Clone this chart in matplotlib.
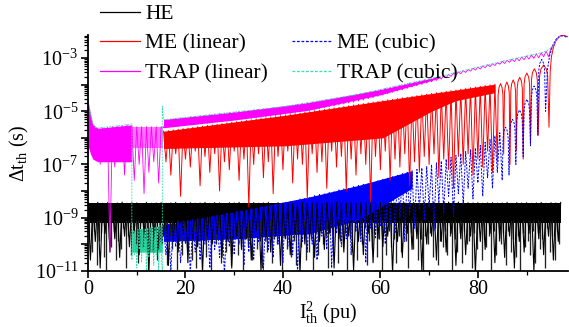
import numpy as np
import matplotlib
matplotlib.use("Agg")
import matplotlib.pyplot as plt
from matplotlib.lines import Line2D
from matplotlib.ticker import LogLocator, FuncFormatter, MultipleLocator, NullFormatter

# ---------------- data (log10 of Delta t_th in s) ----------------
# HE: peaks at x = 0,1,...,97 ; troughs at x = 0.5,...,96.5 ; extra spikes at 0.25, 0.75, ...
he_peaks = [-8.45,-8.47,-8.43,-8.46,-8.44, -8.48,-8.45,-8.42,-8.46,-8.44, -8.45,-8.47,-8.43,-8.46,-8.45,
            -8.44,-8.46,-8.45,-8.43,-8.47, -8.45,-8.44,-8.46,-8.45,-8.43, -8.46,-8.44,-8.45,-8.47,-8.44,
            -8.45,-8.43,-8.46,-8.45,-8.44, -8.46,-8.45,-8.43,-8.47,-8.44, -8.45,-8.44,-8.46,-8.45,-8.43,
            -8.46,-8.44,-8.45,-8.47,-8.44, -8.45,-8.43,-8.46,-8.45,-8.44, -8.46,-8.45,-8.43,-8.47,-8.44,
            -8.45,-8.44,-8.46,-8.45,-8.43, -8.45,-8.44,-8.46,-8.45,-8.43, -8.44,-8.42,-8.43,-8.41,-8.42,
            -8.40,-8.42,-8.43,-8.44,-8.45, -8.44,-8.46,-8.45,-8.44,-8.46, -8.45,-8.43,-8.46,-8.44,-8.45,
            -8.44,-8.46,-8.45,-8.43,-8.46, -8.44,-8.45,-8.43]
he_troughs = [-10.6,-9.9,-10.9,-9.6,-10.3, -9.8,-10.5,-9.7,-10.1,-9.5, -10.4,-9.6,-11.0,-9.8,-10.2,
              -9.7,-10.8,-9.9,-10.3,-9.6, -10.7,-9.8,-10.1,-11.1,-9.7, -10.0,-9.6,-10.5,-9.9,-10.9,
              -9.7,-10.2,-9.8,-10.6,-9.5, -11.0,-9.9,-10.3,-9.7,-10.8, -9.8,-10.4,-9.6,-11.1,-10.0,
              -9.7,-10.5,-9.9,-10.2,-9.6, -10.9,-9.8,-10.3,-9.7,-11.0, -9.9,-10.4,-9.6,-10.7,-9.8,
              -10.1,-9.7,-11.1,-9.9,-10.5, -9.6,-10.2,-9.8,-11.0,-10.0, -9.7,-10.6,-9.9,-10.3,-9.6,
              -10.8,-9.8,-10.4,-9.7,-11.1, -9.9,-10.2,-9.6,-10.7,-9.8, -10.5,-9.7,-10.9,-9.9,-10.3,
              -9.6,-11.0,-9.8,-10.4,-9.7, -10.6,-9.9]
he_spikes = [-9.7,-10.3,-9.5,-10.8,-9.9,-9.6,-10.5,-11.0,-9.8,-10.1,
             -9.5,-10.6,-9.9,-10.2,-9.4,-10.9,-9.7,-10.4,-9.6,-10.0,
             -10.7,-9.5,-10.1,-9.8,-11.1,-9.6,-10.3,-9.5,-10.6,-9.9,
             -10.0,-9.4,-10.8,-9.7,-10.2,-9.6,-11.0,-9.8,-10.4,-9.5,
             -10.1,-9.7,-10.6,-9.5,-10.9,-9.9,-10.2,-9.6,-10.5,-9.4,
             -11.2,-9.8,-10.0,-9.5,-10.7,-9.6,-10.3,-9.9,-10.8,-9.7,
             -9.6,-10.4,-9.5,-11.0,-9.8,-10.1,-9.7,-10.6,-9.4,-10.2,
             -9.9,-10.9,-9.6,-10.3,-9.5,-10.7,-9.8,-10.0,-9.6,-11.1,
             -9.7,-10.2,-9.5,-10.5,-9.9,-10.8,-9.6,-10.1,-9.4,-10.6,
             -10.3,-9.8,-11.0,-9.6,-10.4,-9.5,-10.0,-9.7,-10.9,-9.6,
             -10.2,-9.5,-10.7,-9.9,-10.1,-9.6,-11.2,-9.8,-10.3,-9.5,
             -10.6,-9.7,-10.0,-9.4,-10.8,-9.9,-10.2,-9.6,-10.5,-9.8,
             -11.0,-9.6,-10.4,-9.5,-10.1,-9.8,-10.7,-9.7,-10.3,-9.4,
             -9.9,-10.9,-9.6,-10.2,-9.5,-10.6,-9.8,-11.1,-9.7,-10.0,
             -9.6,-10.5,-9.4,-10.8,-9.9,-10.1,-9.5,-10.4,-9.7,-11.0,
             -9.8,-10.3,-9.6,-10.7,-9.5,-10.0,-9.9,-10.9,-9.6,-10.2,
             -9.4,-10.6,-9.8,-10.1,-9.7,-11.2,-9.5,-10.4,-9.9,-10.0,
             -9.6,-10.8,-9.5,-10.3,-9.8,-10.5,-9.7,-11.0,-9.6,-10.1,
             -9.9,-10.4,-9.5,-10.7,-9.6,-10.2,-9.8,-10.9,-9.4,-10.3,
             -9.7,-10.6,-9.5,-10.0]
he_spike_top = -9.1
he_band_x = [0, 97]
he_band_hi = [-8.45, -8.45]
he_band_lo = [-9.2, -9.2]

# ME (linear): peaks at 15.5,...,83.5 ; troughs at 16,...,84 ; then lobes
me_lin_peaks = [-5.75,-5.73,-5.70,-5.68,-5.65,-5.63,-5.61,-5.58,-5.56,-5.53,
                -5.51,-5.49,-5.46,-5.44,-5.41,-5.39,-5.37,-5.34,-5.32,-5.29,
                -5.27,-5.25,-5.22,-5.20,-5.17,-5.15,-5.12,-5.09,-5.07,-5.04,
                -5.01,-4.98,-4.96,-4.93,-4.90,-4.87,-4.85,-4.82,-4.79,-4.76,
                -4.74,-4.71,-4.68,-4.65,-4.63,-4.60,-4.57,-4.55,-4.52,-4.49,
                -4.47,-4.44,-4.41,-4.38,-4.36,-4.33,-4.30,-4.28,-4.25,-4.22,
                -4.20,-4.17,-4.14,-4.11,-4.09,-4.06,-4.03,-4.01,-3.98]
me_lin_troughs = [-6.9,-7.4,-6.6,-8.2,-6.8,-7.1,-6.5,-7.8,-6.7,-7.3,
                  -6.6,-8.0,-6.9,-7.2,-6.5,-7.6,-6.8,-8.6,-7.0,-6.6,
                  -7.5,-6.9,-8.1,-6.7,-7.2,-6.5,-7.7,-6.8,-7.0,-8.3,
                  -6.6,-7.3,-6.9,-7.9,-6.5,-7.1,-6.7,-8.0,-6.8,-7.4,
                  -6.6,-7.0,-8.4,-6.7,-7.2,-6.5,-7.6,-6.8,-7.1,-6.6,
                  -7.8,-6.9,-7.3,-6.7,-7.0,-6.6,-7.5,-6.8,-7.2,-7.9,
                  -6.7,-7.0,-6.6,-7.4,-6.8,-7.1,-6.5,-7.3,-6.9]
me_lin_tail_x = [84.16,84.33,84.65,84.97,85.14,85.3, 85.46,85.63,85.95,86.27,86.44,86.6,
                 86.76,86.93,87.25,87.57,87.74,87.9, 88.07,88.25,88.6,88.95,89.13,89.3,
                 89.49,89.68,90.05,90.42,90.61,90.8, 91.0,91.2,91.6,92.0,92.2,92.4,
                 92.67,92.95,93.5,94.05,94.33,94.6, 94.85,95.1,95.5,96.0,96.6,97.2,97.8,98.5]
me_lin_tail = [-4.38,-4.11,-3.96,-4.11,-4.38,-6.6, -4.32,-4.05,-3.90,-4.05,-4.32,-7.0,
               -4.24,-3.97,-3.82,-3.97,-4.24,-6.5, -4.14,-3.87,-3.72,-3.87,-4.14,-6.8,
               -3.98,-3.71,-3.56,-3.71,-3.98,-6.2, -3.82,-3.55,-3.40,-3.55,-3.82,-5.9,
               -3.68,-3.41,-3.26,-3.41,-3.68,-5.6, -3.5,-2.95,-2.6,-2.35,-2.2,-2.14,-2.15,-2.2]
me_lin_band_x = [15.5, 40.5, 60.5, 70.5, 75.5, 83.5]
me_lin_band_hi = [-5.75, -5.15, -4.60, -4.33, -4.20, -3.98]
me_lin_band_lo = [-6.4, -6.3, -6.0, -5.0, -4.6, -4.3]

# TRAP (linear): peaks at 0,...,97 ; troughs at 0.5,...,96.5
trap_lin_peaks = [-4.60,-5.50,-5.64,-5.62,-5.60,-5.58,-5.56,-5.54,-5.51,-5.58,
                  -5.58,-5.58,-5.58,-5.58,-5.58,-5.58,
                  -5.31,-5.29,-5.27,-5.25,-5.23,-5.21,-5.19,-5.17,-5.15,-5.13,
                  -5.11,-5.09,-5.07,-5.05,-5.03,-5.01,-4.99,-4.97,-4.95,-4.93,
                  -4.91,-4.89,-4.87,-4.85,-4.83,-4.80,-4.77,-4.74,-4.71,-4.68,
                  -4.65,-4.62,-4.59,-4.56,-4.53,-4.50,-4.47,-4.44,-4.41,-4.38,
                  -4.34,-4.30,-4.26,-4.22,-4.18,-4.14,-4.10,-4.06,-4.02,-3.98,
                  -3.94,-3.90,-3.86,-3.82,-3.78,-3.74,-3.70,-3.65,-3.61,-3.56,
                  -3.52,-3.47,-3.43,-3.38,-3.34,-3.30,-3.25,-3.21,-3.17,-3.12,
                  -3.08,-3.04,-3.00,-2.96,-2.92,-2.88,-2.84,-2.80,-2.74,-2.62,
                  -2.35,-2.15]
trap_lin_troughs = [-6.2,-6.8,-7.0,-6.9,-10.3,-7.1,-6.8,-7.4,-6.9,-7.6,
                    -7.0,-8.1,-7.3,-6.9,-7.7,-5.62,
                    -5.60,-5.58,-5.56,-5.55,-5.52,-5.50,-5.48,-5.46,-5.45,-5.42,
                    -5.40,-5.38,-5.36,-5.35,-5.32,-5.30,-5.28,-5.26,-5.24,-5.22,
                    -5.20,-5.18,-5.16,-5.14,-5.11,-5.08,-5.05,-5.02,-4.99,-4.96,
                    -4.93,-4.90,-4.86,-4.83,-4.80,-4.76,-4.73,-4.69,-4.66,-4.62,
                    -4.58,-4.53,-4.49,-4.44,-4.39,-4.34,-4.29,-4.24,-4.19,-4.14,
                    -4.09,-4.04,-3.99,-3.94,-3.89,-3.84,-3.79,-3.74,-3.69,-3.64,
                    -3.59,-3.54,-3.49,-3.45,-3.41,-3.36,-3.32,-3.28,-3.23,-3.20,
                    -3.16,-3.13,-3.10,-3.06,-3.04,-3.01,-2.99,-2.95,-2.95,-2.55,
                    -2.25]
trap_lin_band_x = [0, 0.5, 1, 2, 9]
trap_lin_band_hi = [-4.6, -5.1, -5.5, -5.64, -5.51]
trap_lin_band_lo = [-6.3, -6.6, -6.8, -6.9, -6.9]
trap_lin_band2_x = [9, 15.3]
trap_lin_band2_hi = [-5.58, -5.58]
trap_lin_band2_lo = [-6.4, -6.4]
trap_lin_band3_x = [15.5, 30, 45, 60, 72]
trap_lin_band3_hi = [-5.31, -5.03, -4.68, -4.18, -3.70]
trap_lin_band3_lo = [-5.62, -5.33, -4.97, -4.38, -3.76]

# ME (cubic): peaks at 15.5,...,84.5 ; troughs at 16,...,85 ; then lobes
me_cub_peaks = [-9.28,-9.25,-9.21,-9.18,-9.15,-9.11,-9.08,-9.04,-9.01,-8.98,
                -8.94,-8.91,-8.87,-8.84,-8.81,-8.77,-8.74,-8.71,-8.67,-8.64,
                -8.60,-8.57,-8.54,-8.50,-8.47,-8.43,-8.39,-8.35,-8.30,-8.26,
                -8.22,-8.18,-8.13,-8.09,-8.05,-8.01,-7.96,-7.92,-7.88,-7.84,
                -7.79,-7.75,-7.71,-7.67,-7.62,-7.57,-7.52,-7.46,-7.41,-7.35,
                -7.30,-7.24,-7.19,-7.13,-7.08,-7.01,-6.94,-6.87,-6.80,-6.73,
                -6.66,-6.59,-6.52,-6.45,-6.38,-6.29,-6.17,-6.05,-5.93,-5.81]
me_cub_troughs = [-10.4,-11.0,-10.1,-10.7,-10.0,-11.1,-10.3,-10.6,-10.0,-10.9,
                  -10.2,-10.5,-11.2,-10.1,-10.4,-10.0,-10.8,-10.3,-10.6,-9.9,
                  -11.0,-10.2,-10.5,-10.0,-10.7,-10.1,-10.4,-11.1,-9.9,-10.3,
                  -10.0,-10.6,-9.7,-10.2,-10.9,-9.6,-10.1,-9.8,-10.4,-9.5,
                  -9.9,-10.7,-9.4,-9.8,-9.3,-10.0,-9.2,-9.6,-9.0,-9.9,
                  -8.9,-9.4,-8.7,-9.1,-8.6,-9.5,-8.4,-8.8,-8.2,-9.0,
                  -8.1,-8.5,-7.9,-8.3,-7.7,-8.2,-7.5,-7.9,-7.3,-7.6]
me_cub_tail_x = [85.18,85.35,85.7,86.05,86.23,86.4, 86.58,86.75,87.1,87.45,87.63,87.8,
                 87.99,88.18,88.55,88.93,89.11,89.3, 89.49,89.68,90.05,90.43,90.61,90.8,
                 90.99,91.18,91.55,91.93,92.11,92.3, 92.5,92.7,93.1,93.5,93.7,93.9,
                 94.3,94.8,95.4,96.1,96.8,97.5,98.3]
me_cub_tail = [-6.02,-5.75,-5.6,-5.75,-6.02,-7.4, -5.72,-5.45,-5.3,-5.45,-5.72,-7.0,
               -5.37,-5.10,-4.95,-5.10,-5.37,-6.7, -4.97,-4.70,-4.55,-4.70,-4.97,-6.3,
               -4.47,-4.20,-4.05,-4.20,-4.47,-5.9, -3.47,-3.20,-3.05,-3.20,-3.47,-5.0,
               -3.4,-2.85,-2.5,-2.28,-2.18,-2.16,-2.22]
me_cub_band_x = [15.5, 30.5, 45.5, 55.5, 66.5]
me_cub_band_hi = [-9.28, -8.77, -8.22, -7.79, -7.24]
me_cub_band_lo = [-9.9, -9.8, -9.6, -9.1, -7.9]

# TRAP (cubic)
trap_cub_head_x = [0, 0.5, 1, 1.5, 2, 3, 4, 5, 6, 7, 8, 9, 9.0]
trap_cub_head = [-4.62,-5.1,-5.48,-5.62,-5.63,-5.61,-5.59,-5.57,-5.55,-5.53,-5.50,-5.48,-10.6]
trap_cub_low = [-9.47,-10.4,-9.46,-10.9,-9.45,-10.2,-9.44,-10.7,-9.42,-10.3,-9.41,-11.1,
                -9.39,-10.5,-9.38,-10.2,-9.36,-10.8,-9.35,-10.4,-9.33,-11.0,-9.31,-10.3]  # x = 9.25..15.0
trap_cub_jump_x = [15.25, 15.25, 15.5]
trap_cub_jump = [-11.0, -4.8, -5.31]
trap_cub_band_x = [9.0, 15.25]
trap_cub_band_hi = [-9.47, -9.30]
trap_cub_band_lo = [-10.3, -10.3]

legend_labels = ["HE", "ME (linear)", "TRAP (linear)", "ME (cubic)", "TRAP (cubic)"]
x_ticks = [0, 20, 40, 60, 80]

# ---------------- style ----------------
plt.rcParams['font.family'] = ['Liberation Serif', 'DejaVu Serif']
plt.rcParams['mathtext.fontset'] = 'custom'
plt.rcParams['mathtext.rm'] = 'Liberation Serif'
plt.rcParams['mathtext.it'] = 'Liberation Serif:italic'
plt.rcParams['mathtext.bf'] = 'Liberation Serif:bold'
plt.rcParams['axes.unicode_minus'] = True

C_HE = 'black'
C_MEL = '#ff0000'
C_TRL = '#ff00ff'
C_MEC = '#0000ff'
C_TRC = '#2fe0b0'
C_TRC_BAND = '#22cc90'
DASH = (0, (2.2, 1.4))


def alt(x0, step, peaks, troughs):
    n = len(peaks) + len(troughs)
    x = x0 + step * np.arange(n)
    y = np.empty(n)
    y[0::2] = peaks
    y[1::2] = troughs
    return x, 10.0 ** y


def p10(v):
    return 10.0 ** np.asarray(v, dtype=float)


fig = plt.figure(figsize=(5.69, 3.27), dpi=100)
ax = fig.add_axes([88 / 569, (327 - 270.7) / 327, (568 - 88) / 569, (270.7 - 35) / 327])
ax.set_yscale('log')

LW = 0.6
# HE
ax.fill_between(he_band_x, p10(he_band_lo), p10(he_band_hi), color=C_HE, lw=0)
spike_x = 0.25 + 0.5 * np.arange(len(he_spikes))
ax.vlines(spike_x, p10(he_spikes), 10.0 ** he_spike_top, color='#222222', lw=0.95)
hx, hy = alt(0.0, 0.5, he_peaks, he_troughs)
l_he, = ax.plot(hx, hy, color=C_HE, lw=0.8)

# ME (linear)
ax.fill_between(me_lin_band_x, p10(me_lin_band_lo), p10(me_lin_band_hi), color=C_MEL, lw=0)
mx, my = alt(15.5, 0.5, me_lin_peaks, me_lin_troughs)
mx = np.concatenate([mx, me_lin_tail_x])
my = np.concatenate([my, p10(me_lin_tail)])
l_mel, = ax.plot(mx, my, color=C_MEL, lw=0.7)

# TRAP (linear)
ax.fill_between(trap_lin_band_x, p10(trap_lin_band_lo), p10(trap_lin_band_hi), color=C_TRL, lw=0)
ax.fill_between(trap_lin_band2_x, p10(trap_lin_band2_lo), p10(trap_lin_band2_hi), color=C_TRL, lw=0, alpha=0.55)
ax.fill_between(trap_lin_band3_x, p10(trap_lin_band3_lo), p10(trap_lin_band3_hi), color=C_TRL, lw=0)
tx, ty = alt(0.0, 0.5, trap_lin_peaks, trap_lin_troughs)
l_trl, = ax.plot(tx, ty, color=C_TRL, lw=LW)

# ME (cubic)
ax.fill_between(me_cub_band_x, p10(me_cub_band_lo), p10(me_cub_band_hi), color=C_MEC, lw=0)
cx, cy = alt(15.5, 0.5, me_cub_peaks, me_cub_troughs)
cx = np.concatenate([cx, me_cub_tail_x])
cy = np.concatenate([cy, p10(me_cub_tail)])
l_mec, = ax.plot(cx, cy, color=C_MEC, lw=0.7, linestyle=DASH)

# TRAP (cubic)
ax.fill_between(trap_cub_band_x, p10(trap_cub_band_lo), p10(trap_cub_band_hi), color=C_TRC_BAND, lw=0)
low_x = 9.25 + 0.25 * np.arange(len(trap_cub_low))
top_x = np.arange(16, 16 + len(trap_lin_peaks[16:]))
qx = np.concatenate([trap_cub_head_x, low_x, trap_cub_jump_x, top_x])
qy = np.concatenate([p10(trap_cub_head), p10(trap_cub_low), p10(trap_cub_jump), p10(trap_lin_peaks[16:])])
l_trc, = ax.plot(qx, qy, color=C_TRC, lw=LW, linestyle=DASH)

# ---------------- axes ----------------
ax.set_xlim(0, 98.5)
ax.set_ylim(1e-11, 10 ** -2.13)
for s in ['top', 'right']:
    ax.spines[s].set_visible(False)
for s in ['left', 'bottom']:
    ax.spines[s].set_linewidth(1.3)

ax.xaxis.set_major_locator(MultipleLocator(20))
ax.xaxis.set_minor_locator(MultipleLocator(10))
ax.set_xticks(x_ticks)
ax.yaxis.set_major_locator(LogLocator(base=10, numticks=30))
ax.yaxis.set_minor_locator(LogLocator(base=10, subs=np.arange(2, 10), numticks=30))
ax.yaxis.set_minor_formatter(NullFormatter())


def yfmt(v, pos):
    e = int(round(np.log10(v)))
    if e % 2 != 0:
        return r'$10^{%d}$' % e
    return ''


ax.yaxis.set_major_formatter(FuncFormatter(yfmt))
ax.tick_params(which='major', direction='out', length=5, width=1.2, labelsize=14.5, pad=2)
ax.tick_params(which='minor', direction='out', length=3, width=0.9)

ax.set_ylabel(r'$\Delta$t$_{\mathrm{th}}$ (s)', fontsize=14.5, labelpad=3)
ax.set_xlabel(r'I$_{\mathrm{th}}^{2}$ (pu)', fontsize=14.5, labelpad=0)

blank = Line2D([], [], color='none')
h_he = Line2D([], [], color=C_HE, lw=0.9)
h_mel = Line2D([], [], color=C_MEL, lw=0.9)
h_trl = Line2D([], [], color=C_TRL, lw=0.9)
h_mec = Line2D([], [], color=C_MEC, lw=0.9, linestyle=DASH)
h_trc = Line2D([], [], color=C_TRC, lw=0.9, linestyle=DASH)
fig.legend([h_he, h_mel, h_trl, blank, h_mec, h_trc],
           [legend_labels[0], legend_labels[1], legend_labels[2], '', legend_labels[3], legend_labels[4]],
           ncol=2, loc='upper left', bbox_to_anchor=(100 / 569, 1 - 4 / 327), frameon=False,
           fontsize=15.5, handlelength=1.86, handletextpad=0.23, columnspacing=1.12,
           labelspacing=0.44, borderpad=0, borderaxespad=0)

fig.savefig('out.png', dpi=100)
